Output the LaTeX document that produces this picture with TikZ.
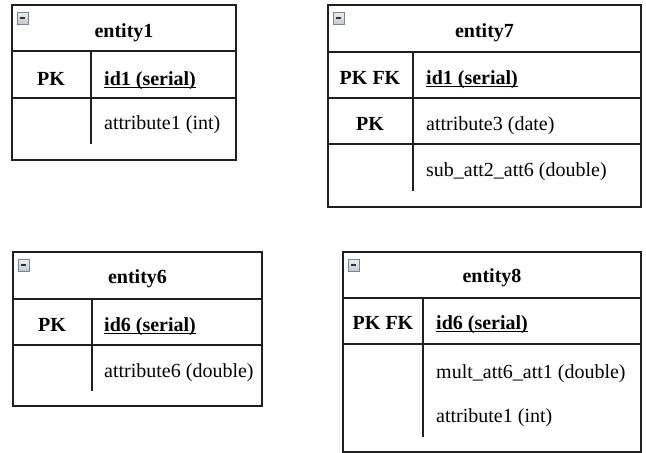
\documentclass[tikz,border=0pt]{standalone}
\usepackage{fontspec}
\setmainfont{Liberation Serif}
\newcommand\keyline[1]{\setbox0\hbox{#1}\rlap{\rule[-3.2pt]{\wd0}{1.3pt}}\box0}
\begin{document}
\begin{tikzpicture}[x=1pt,y=-1pt,
  frame/.style={draw=black!88, line width=1.3pt},
  title/.style={font=\fontsize{20}{24}\selectfont\bfseries, anchor=base, inner sep=0pt},
  keytag/.style={font=\fontsize{20}{24}\selectfont\bfseries, anchor=base, inner sep=0pt},
  field/.style={font=\fontsize{20}{24}\selectfont, anchor=base west, inner sep=0pt},
  pkfield/.style={field, font=\fontsize{20}{24}\selectfont\bfseries},
  iconbox/.style={draw={rgb,255:red,120;green,132;blue,152}, line width=0.7pt,
    top color={rgb,255:red,236;green,238;blue,242}, bottom color={rgb,255:red,196;green,200;blue,208}},
]
\useasboundingbox (0,0) rectangle (646,453);

% collapse icon: box, minus bar
\def\collapseicon#1#2{%
  \shade[iconbox] (#1+5,#2+7) rectangle (#1+16,#2+19);
  \fill[black!80] (#1+8,#2+12.3) rectangle (#1+13,#2+14);
}

% ---------------- entity1 ----------------
\draw[frame] (12,5) rectangle (236,160);
\draw[frame] (12,51) -- (236,51);
\draw[frame] (12,98) -- (236,98);
\draw[frame] (91,51) -- (91,144);
\collapseicon{12}{5}
\node[title]  (e1t)  at (124,37) {entity1};
\node[keytag] (e1k1) at (51,85)  {PK};
\node[pkfield](e1f1) at (104,85) {\keyline{id1 (serial)}};
\node[field]  (e1f2) at (104,129) {attribute1 (int)};

% ---------------- entity7 ----------------
\draw[frame] (328,5) rectangle (641,207);
\draw[frame] (328,52) -- (641,52);
\draw[frame] (328,98) -- (641,98);
\draw[frame] (328,144) -- (641,144);
\draw[frame] (413,52) -- (413,191);
\collapseicon{328}{5}
\node[title]  (e7t)  at (484.5,37) {entity7};
\node[keytag] (e7k1) at (370,84)  {PK FK};
\node[pkfield](e7f1) at (426,84)  {\keyline{id1 (serial)}};
\node[keytag] (e7k2) at (370,130) {PK};
\node[field]  (e7f2) at (426,130) {attribute3 (date)};
\node[field]  (e7f3) at (426,176) {sub\_att2\_att6 (double)};

% ---------------- entity6 ----------------
\draw[frame] (13,252) rectangle (262,406);
\draw[frame] (13,299) -- (262,299);
\draw[frame] (13,345) -- (262,345);
\draw[frame] (92,299) -- (92,391);
\collapseicon{13}{252}
\node[title]  (e6t)  at (137.5,283) {entity6};
\node[keytag] (e6k1) at (52,331)  {PK};
\node[pkfield](e6f1) at (104,331) {\keyline{id6 (serial)}};
\node[field]  (e6f2) at (104,377) {attribute6 (double)};

% ---------------- entity8 ----------------
\draw[frame] (343,252) rectangle (641,452);
\draw[frame] (343,298) -- (641,298);
\draw[frame] (343,344) -- (641,344);
\draw[frame] (423,298) -- (423,437);
\collapseicon{343}{252}
\node[title]  (e8t)  at (492,282) {entity8};
\node[keytag] (e8k1) at (383,329) {PK FK};
\node[pkfield](e8f1) at (436,329) {\keyline{id6 (serial)}};
\node[field]  (e8f2) at (436,378) {mult\_att6\_att1 (double)};
\node[field]  (e8f3) at (436,422) {attribute1 (int)};
\end{tikzpicture}
\end{document}
